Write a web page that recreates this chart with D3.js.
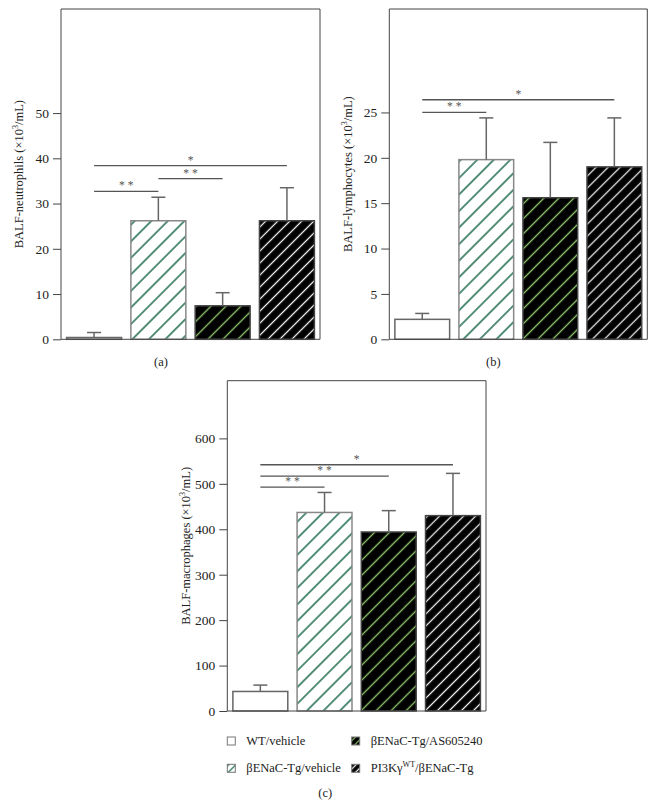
<!DOCTYPE html>
<html><head><meta charset="utf-8">
<script src="https://cdn.jsdelivr.net/npm/d3@7"></script>
<style>
html,body{margin:0;padding:0;background:#fff;}
svg{display:block;font-family:"Liberation Serif","DejaVu Serif",serif;}
</style></head>
<body>
<svg id="chart" width="656" height="807"></svg>
<script>
// ---------- data ----------
const categories = ["WT/vehicle", "βENaC-Tg/vehicle", "βENaC-Tg/AS605240", "PI3Kγ/βENaC-Tg"];
const neutrophils = [0.4, 26.2, 7.4, 26.2];
const neutrophilsErr = [1.1, 5.2, 2.9, 7.3];
const lymphocytes = [2.2, 19.8, 15.6, 19.0];
const lymphocytesErr = [0.65, 4.6, 6.1, 5.4];
const macrophages = [43, 437, 394, 430];
const macrophagesErr = [14, 44, 47, 93];
const ticksA = [0, 10, 20, 30, 40, 50];
const ticksB = [0, 5, 10, 15, 20, 25];
const ticksC = [0, 100, 200, 300, 400, 500, 600];
const yMax = [73, 36.4, 727];
const sigA = [[0, 1, "* *", 32.7], [1, 2, "* *", 35.5], [0, 3, "*", 38.4]];
const sigB = [[0, 1, "* *", 25.0], [0, 3, "*", 26.4]];
const sigC = [[0, 1, "* *", 492.8], [0, 2, "* *", 517], [0, 3, "*", 542]];
const yLabels = ["BALF-neutrophils", "BALF-lymphocytes", "BALF-macrophages"];
const panelLabels = ["(a)", "(b)", "(c)"];

// ---------- styles ----------
const svg = d3.select("#chart");
const defs = svg.append("defs");
function makePattern(id, bg, stroke, spacing, sw) {
  const p = defs.append("pattern").attr("id", id).attr("patternUnits", "userSpaceOnUse")
    .attr("width", spacing).attr("height", spacing)
    .attr("patternTransform", "rotate(45)");
  p.append("rect").attr("width", spacing).attr("height", spacing).attr("fill", bg);
  p.append("line").attr("x1", spacing / 2).attr("x2", spacing / 2).attr("y1", 0).attr("y2", spacing)
    .attr("stroke", stroke).attr("stroke-width", sw);
}
makePattern("pGreen", "#fff", "#1d6a4a", 11.7, 1.5);
makePattern("pLight", "#000", "#8cc06a", 10.6, 1.4);
makePattern("pWhite", "#000", "#f2f2f2", 8.5, 1.3);
makePattern("pGreenS", "#fff", "#1d6a4a", 5, 1.3);
makePattern("pLightS", "#000", "#8cc06a", 5, 1.3);
makePattern("pWhiteS", "#000", "#f2f2f2", 5, 1.3);
const fills = ["#fff", "url(#pGreen)", "url(#pLight)", "url(#pWhite)"];
const legendFills = ["#fff", "url(#pGreenS)", "url(#pLightS)", "url(#pWhiteS)"];
const strokes = ["#666", "#888", "#444", "#444"];

const panels = [
  { left: 61, right: 320, top: 9, bottom: 339.3, vals: neutrophils, errs: neutrophilsErr, ticks: ticksA, max: yMax[0], sig: sigA, label: yLabels[0], tag: panelLabels[0], tagX: 161, tagY: 366 },
  { left: 389.3, right: 647.3, top: 9, bottom: 339.3, vals: lymphocytes, errs: lymphocytesErr, ticks: ticksB, max: yMax[1], sig: sigB, label: yLabels[1], tag: panelLabels[1], tagX: 493.3, tagY: 366 },
  { left: 227.3, right: 486, top: 380.7, bottom: 711, vals: macrophages, errs: macrophagesErr, ticks: ticksC, max: yMax[2], sig: sigC, label: yLabels[2], tag: panelLabels[2], tagX: 325.3, tagY: 797 }
];

panels.forEach(P => {
  const g = svg.append("g");
  const x = d3.scaleBand().domain(d3.range(categories.length)).range([P.left, P.right])
    .paddingInner(0.145).paddingOuter(0.087);
  const y = d3.scaleLinear().domain([0, P.max]).range([P.bottom, P.top]);

  // bars
  g.selectAll("rect.bar").data(P.vals).enter().append("rect")
    .attr("x", (d, i) => x(i)).attr("width", x.bandwidth())
    .attr("y", d => y(d)).attr("height", d => y(0) - y(d))
    .attr("fill", (d, i) => fills[i]).attr("stroke", (d, i) => strokes[i]).attr("stroke-width", 1.5);

  // error bars (upper only)
  P.vals.forEach((v, i) => {
    const cx = x(i) + x.bandwidth() / 2;
    g.append("line").attr("x1", cx).attr("x2", cx).attr("y1", y(v)).attr("y2", y(v + P.errs[i]))
      .attr("stroke", "#666").attr("stroke-width", 1.5);
    g.append("line").attr("x1", cx - 7).attr("x2", cx + 7).attr("y1", y(v + P.errs[i])).attr("y2", y(v + P.errs[i]))
      .attr("stroke", "#666").attr("stroke-width", 1.5);
  });

  // significance
  P.sig.forEach(([a, b, s, h]) => {
    const x1 = x(a) + x.bandwidth() / 2, x2 = x(b) + x.bandwidth() / 2;
    g.append("line").attr("x1", x1).attr("x2", x2).attr("y1", y(h)).attr("y2", y(h))
      .attr("stroke", "#555").attr("stroke-width", 1.3);
    g.append("text").attr("x", (x1 + x2) / 2).attr("y", y(h) - 2).attr("text-anchor", "middle")
      .attr("font-size", 11.5).attr("fill", "#555").text(s);
  });

  // axes
  const ax = g.append("g").attr("transform", `translate(${P.left},0)`)
    .call(d3.axisLeft(y).tickValues(P.ticks).tickSize(8).tickSizeOuter(0).tickPadding(4).tickFormat(d3.format("d")));
  ax.attr("font-family", null).attr("font-size", null);
  ax.selectAll("text").attr("font-size", 13.5).attr("fill", "#222");
  ax.selectAll("line,path").attr("stroke", "#444");
  ax.select("path.domain").attr("d", `M0,${P.bottom}V${P.top}`);
  g.append("path").attr("d", `M${P.left},${P.top}H${P.right}V${P.bottom}H${P.left}`)
    .attr("fill", "none").attr("stroke", "#444").attr("stroke-width", 1);

  // y label
  const t = g.append("text").attr("transform", `translate(${P.left - 42},${(P.top + P.bottom) / 2}) rotate(-90)`)
    .attr("text-anchor", "middle").attr("dy", "0.35em").attr("font-size", 12.5).attr("fill", "#222");
  t.append("tspan").text(P.label + " (×10");
  t.append("tspan").attr("font-size", 8).attr("dy", -5).text("3");
  t.append("tspan").attr("dy", 5).text("/mL)");

  // panel tag
  g.append("text").attr("x", P.tagX).attr("y", P.tagY).attr("text-anchor", "middle")
    .attr("font-size", 12.5).attr("fill", "#222").text(P.tag);
});

// legend
const legPos = [[227.3, 737], [227.3, 764.3], [351.7, 737], [351.7, 764.3]];
categories.forEach((c, i) => {
  const [lx, ly] = legPos[i];
  svg.append("rect").attr("x", lx).attr("y", ly).attr("width", 8).attr("height", 8)
    .attr("fill", legendFills[i]).attr("stroke", "#777").attr("stroke-width", 1);
  const t = svg.append("text").attr("x", lx + 19).attr("y", ly + 7.5).attr("font-size", 12.5).attr("fill", "#222");
  if (i === 3) {
    t.append("tspan").text("PI3Kγ");
    t.append("tspan").attr("font-size", 8).attr("dy", -5).text("WT");
    t.append("tspan").attr("dy", 5).text("/βENaC-Tg");
  } else {
    t.text(c);
  }
});
</script>
</body></html>
